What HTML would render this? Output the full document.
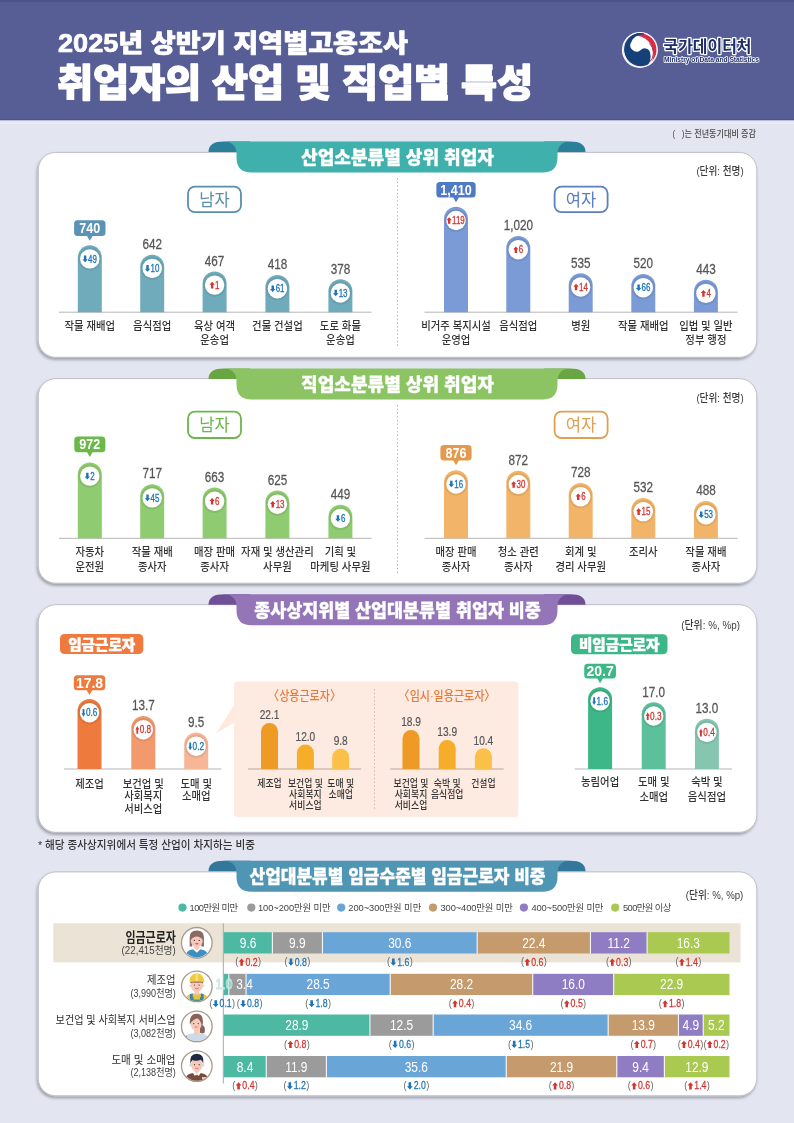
<!DOCTYPE html>
<html lang="ko"><head><meta charset="utf-8"><title>2025년 상반기 지역별고용조사 취업자의 산업 및 직업별 특성</title>
<style>html,body{margin:0;padding:0;background:#e3e5f1;}svg{display:block;font-family:'Liberation Sans','Noto Sans CJK KR',sans-serif;}text{white-space:pre;}</style>
</head><body>
<svg width="794" height="1123" viewBox="0 0 794 1123">
<defs>
<filter id="sh" x="-5%" y="-5%" width="110%" height="115%"><feGaussianBlur in="SourceAlpha" stdDeviation="1.7"/><feOffset dx="-1.4" dy="2"/><feComponentTransfer><feFuncA type="linear" slope="0.32"/></feComponentTransfer><feMerge><feMergeNode/><feMergeNode in="SourceGraphic"/></feMerge></filter>
</defs>
<rect x="0.00" y="0.00" width="794.00" height="1123.00" rx="0" fill="#e3e5f1" />
<rect x="0.00" y="0.00" width="794.00" height="120.00" rx="0" fill="#575d95" />
<rect x="0.00" y="0.00" width="794.00" height="2.00" rx="0" fill="#4c5187" />
<rect x="0.00" y="120.00" width="794.00" height="4.00" rx="0" fill="#e8eaf6" />
<rect x="0.00" y="119.00" width="794.00" height="1.30" rx="0" fill="#4f548a" />
<text x="58" y="52" font-size="25" font-weight="900" fill="#fff" stroke="#fff" stroke-width="0.7" stroke-linejoin="round" textLength="350" lengthAdjust="spacingAndGlyphs">2025년 상반기 지역별고용조사</text>
<text x="57" y="96" font-size="38" font-weight="900" fill="#fff" stroke="#fff" stroke-width="1.3" stroke-linejoin="round" textLength="476" lengthAdjust="spacingAndGlyphs">취업자의 산업 및 직업별 특성</text>
<clipPath id="lgc"><circle cx="0" cy="0" r="16.8"/></clipPath>
<g transform="translate(639.9,49.9)">
<circle r="18" fill="#fff"/>
<g clip-path="url(#lgc)">
<circle r="16.8" fill="#dc2b45"/>
<circle cx="-4.91" cy="4.26" r="18.5" fill="#fff"/>
<path d="M9.6,-6.4 A13.2,13.2 0 0 1 9.6,12.4" fill="none" stroke="#8a2c4e" stroke-width="0.9"/>
<path d="M4.5,-16.9 A16.8,16.8 0 1 0 8.4,14.6 Q11.6,9 10.4,4 A5.6,5.6 0 0 0 0.6,0.4 A6.3,6.3 0 0 1 -8.4,-8.2 Q-6.2,-14.6 4.5,-15.6Z" fill="#15407a"/>
</g></g>
<text x="663.5" y="51.5" font-size="16" font-weight="700" fill="#1d2f6a" stroke="#fff" stroke-width="2.5" stroke-linejoin="round" paint-order="stroke" textLength="88" lengthAdjust="spacingAndGlyphs">국가데이터처</text>
<text x="664" y="62.3" font-size="7" font-weight="700" fill="#1d2f6a" stroke="#fff" stroke-width="1.6" stroke-linejoin="round" paint-order="stroke" textLength="95" lengthAdjust="spacingAndGlyphs">Ministry of Data and Statistics</text>
<text transform="translate(756.00,137.30) scale(0.9,1)" font-size="9" font-weight="500" fill="#4a4a4a" text-anchor="end" >(   )는 전년동기대비 증감</text>
<rect x="38.3" y="152.4" width="718.5" height="204.9" rx="17.5" fill="#fff" stroke="#b9bac6" stroke-width="0.9" filter="url(#sh)"/>
<path d="M208.5,152.0 C208.5,144.5 214,141.5 224,141.5 L250,141.5 L250,152.0Z" fill="#2a7f9a"/>
<path d="M585.5,152.0 C585.5,144.5 580,141.5 570,141.5 L544,141.5 L544,152.0Z" fill="#2a7f9a"/>
<path d="M224,141.5 L570,141.5 C563,141.5 557.5,145.5 557.5,153.5 L557.5,157.5 Q557.5,172.5 542.5,172.5 L251.5,172.5 Q236.5,172.5 236.5,157.5 L236.5,153.5 C236.5,145.5 231,141.5 224,141.5Z" fill="#3fb0ac"/>
<text x="397.5" y="164.1" font-size="18.6" font-weight="900" fill="#fff" stroke="#fff" stroke-width="0.3" stroke-linejoin="round" text-anchor="middle" textLength="193" lengthAdjust="spacingAndGlyphs">산업소분류별 상위 취업자</text>
<text transform="translate(743.70,175.00) scale(0.84,1)" font-size="11.5" font-weight="500" fill="#3c3c3c" text-anchor="end" >(단위: 천명)</text>
<rect x="188" y="186.6" width="53" height="25.6" rx="6.8" fill="#fff" stroke="#5b8fa9" stroke-width="1.8"/>
<text transform="translate(214.50,205.60) scale(0.95,1)" font-size="17.5" font-weight="400" fill="#5b8fa9" text-anchor="middle" >남자</text>
<rect x="554.6" y="186.6" width="53" height="25.6" rx="6.8" fill="#fff" stroke="#5b80c0" stroke-width="1.8"/>
<text transform="translate(581.10,205.60) scale(0.95,1)" font-size="17.5" font-weight="400" fill="#5b80c0" text-anchor="middle" >여자</text>
<line x1="397.5" y1="178" x2="397.5" y2="347" stroke="#bbb" stroke-width="1" stroke-dasharray="1.5 2.2"/>
<line x1="59" y1="312.2" x2="371.5" y2="312.2" stroke="#b5b5b5" stroke-width="1"/>
<line x1="424.5" y1="312.2" x2="737.5" y2="312.2" stroke="#b5b5b5" stroke-width="1"/>
<path d="M77.80,312.2 L77.80,257.20 A12.0,12.0 0 0 1 101.80,257.20 L101.80,312.2Z" fill="#70abbc"/>
<circle cx="89.80" cy="258.90" r="10.6" fill="none" stroke="#000" stroke-opacity="0.07" stroke-width="2"/>
<circle cx="89.80" cy="258.90" r="9.7" fill="#fff"/>
<path d="M85.13,262.20 L87.83,259.20 L86.33,259.20 L86.33,255.60 L83.93,255.60 L83.93,259.20 L82.43,259.20Z" fill="#1d74b6"/>
<text transform="translate(88.08,262.50) scale(0.78,1)" font-size="10.2" font-weight="400" fill="#1d74b6" text-anchor="start" stroke="#1d74b6" stroke-width="0.3">49</text>
<path d="M77.60,220.30 H102.00 Q105.50,220.30 105.50,223.80 V232.40 Q105.50,235.90 102.00,235.90 H92.60 L89.80,240.70 L87.00,235.90 H77.60 Q74.10,235.90 74.10,232.40 V223.80 Q74.10,220.30 77.60,220.30Z" fill="#5b93b5"/>
<text transform="translate(89.80,233.10) scale(0.9,1)" font-size="14" font-weight="700" fill="#fff" text-anchor="middle" >740</text>
<text transform="translate(89.80,330.00) scale(0.88,1)" font-size="11.8" font-weight="500" fill="#333" text-anchor="middle" >작물 재배업</text>
<path d="M140.20,312.2 L140.20,266.70 A12.0,12.0 0 0 1 164.20,266.70 L164.20,312.2Z" fill="#70abbc"/>
<circle cx="152.20" cy="268.40" r="10.6" fill="none" stroke="#000" stroke-opacity="0.07" stroke-width="2"/>
<circle cx="152.20" cy="268.40" r="9.7" fill="#fff"/>
<path d="M147.53,271.70 L150.23,268.70 L148.73,268.70 L148.73,265.10 L146.33,265.10 L146.33,268.70 L144.83,268.70Z" fill="#1d74b6"/>
<text transform="translate(150.48,272.00) scale(0.78,1)" font-size="10.2" font-weight="400" fill="#1d74b6" text-anchor="start" stroke="#1d74b6" stroke-width="0.3">10</text>
<text transform="translate(152.20,248.90) scale(0.82,1)" font-size="14.3" font-weight="400" fill="#555" text-anchor="middle" stroke="#555" stroke-width="0.25">642</text>
<text transform="translate(152.20,330.00) scale(0.88,1)" font-size="11.8" font-weight="500" fill="#333" text-anchor="middle" >음식점업</text>
<path d="M202.60,312.2 L202.60,283.40 A12.0,12.0 0 0 1 226.60,283.40 L226.60,312.2Z" fill="#70abbc"/>
<circle cx="214.60" cy="285.10" r="10.6" fill="none" stroke="#000" stroke-opacity="0.07" stroke-width="2"/>
<circle cx="214.60" cy="285.10" r="9.7" fill="#fff"/>
<path d="M212.14,281.80 L214.84,284.80 L213.34,284.80 L213.34,288.40 L210.94,288.40 L210.94,284.80 L209.44,284.80Z" fill="#d3352f"/>
<text transform="translate(215.09,288.70) scale(0.78,1)" font-size="10.2" font-weight="400" fill="#d3352f" text-anchor="start" stroke="#d3352f" stroke-width="0.3">1</text>
<text transform="translate(214.60,265.60) scale(0.82,1)" font-size="14.3" font-weight="400" fill="#555" text-anchor="middle" stroke="#555" stroke-width="0.25">467</text>
<text transform="translate(214.60,330.00) scale(0.88,1)" font-size="11.8" font-weight="500" fill="#333" text-anchor="middle" >육상 여객</text>
<text transform="translate(214.60,344.30) scale(0.88,1)" font-size="11.8" font-weight="500" fill="#333" text-anchor="middle" >운송업</text>
<path d="M265.40,312.2 L265.40,287.00 A12.0,12.0 0 0 1 289.40,287.00 L289.40,312.2Z" fill="#70abbc"/>
<circle cx="277.40" cy="288.70" r="10.6" fill="none" stroke="#000" stroke-opacity="0.07" stroke-width="2"/>
<circle cx="277.40" cy="288.70" r="9.7" fill="#fff"/>
<path d="M272.73,292.00 L275.43,289.00 L273.93,289.00 L273.93,285.40 L271.53,285.40 L271.53,289.00 L270.03,289.00Z" fill="#1d74b6"/>
<text transform="translate(275.68,292.30) scale(0.78,1)" font-size="10.2" font-weight="400" fill="#1d74b6" text-anchor="start" stroke="#1d74b6" stroke-width="0.3">61</text>
<text transform="translate(277.40,269.20) scale(0.82,1)" font-size="14.3" font-weight="400" fill="#555" text-anchor="middle" stroke="#555" stroke-width="0.25">418</text>
<text transform="translate(277.40,330.00) scale(0.88,1)" font-size="11.8" font-weight="500" fill="#333" text-anchor="middle" >건물 건설업</text>
<path d="M328.40,312.2 L328.40,291.30 A12.0,12.0 0 0 1 352.40,291.30 L352.40,312.2Z" fill="#70abbc"/>
<circle cx="340.40" cy="293.00" r="10.6" fill="none" stroke="#000" stroke-opacity="0.07" stroke-width="2"/>
<circle cx="340.40" cy="293.00" r="9.7" fill="#fff"/>
<path d="M335.73,296.30 L338.43,293.30 L336.93,293.30 L336.93,289.70 L334.53,289.70 L334.53,293.30 L333.03,293.30Z" fill="#1d74b6"/>
<text transform="translate(338.68,296.60) scale(0.78,1)" font-size="10.2" font-weight="400" fill="#1d74b6" text-anchor="start" stroke="#1d74b6" stroke-width="0.3">13</text>
<text transform="translate(340.40,273.50) scale(0.82,1)" font-size="14.3" font-weight="400" fill="#555" text-anchor="middle" stroke="#555" stroke-width="0.25">378</text>
<text transform="translate(340.40,330.00) scale(0.88,1)" font-size="11.8" font-weight="500" fill="#333" text-anchor="middle" >도로 화물</text>
<text transform="translate(340.40,344.30) scale(0.88,1)" font-size="11.8" font-weight="500" fill="#333" text-anchor="middle" >운송업</text>
<path d="M444.00,312.2 L444.00,218.80 A12.0,12.0 0 0 1 468.00,218.80 L468.00,312.2Z" fill="#7b9bd6"/>
<circle cx="456.00" cy="220.50" r="10.6" fill="none" stroke="#000" stroke-opacity="0.07" stroke-width="2"/>
<circle cx="456.00" cy="220.50" r="9.7" fill="#fff"/>
<path d="M449.11,217.20 L451.81,220.20 L450.31,220.20 L450.31,223.80 L447.91,223.80 L447.91,220.20 L446.41,220.20Z" fill="#d3352f"/>
<text transform="translate(452.06,224.10) scale(0.78,1)" font-size="10.2" font-weight="400" fill="#d3352f" text-anchor="start" stroke="#d3352f" stroke-width="0.3">119</text>
<path d="M439.85,181.90 H472.15 Q475.65,181.90 475.65,185.40 V193.90 Q475.65,197.40 472.15,197.40 H458.80 L456.00,202.20 L453.20,197.40 H439.85 Q436.35,197.40 436.35,193.90 V185.40 Q436.35,181.90 439.85,181.90Z" fill="#4f7ac6"/>
<text transform="translate(456.00,194.60) scale(0.9,1)" font-size="14" font-weight="700" fill="#fff" text-anchor="middle" >1,410</text>
<text transform="translate(456.00,330.00) scale(0.88,1)" font-size="11.8" font-weight="500" fill="#333" text-anchor="middle" >비거주 복지시설</text>
<text transform="translate(456.00,344.30) scale(0.88,1)" font-size="11.8" font-weight="500" fill="#333" text-anchor="middle" >운영업</text>
<path d="M506.30,312.2 L506.30,248.00 A12.0,12.0 0 0 1 530.30,248.00 L530.30,312.2Z" fill="#7b9bd6"/>
<circle cx="518.30" cy="249.70" r="10.6" fill="none" stroke="#000" stroke-opacity="0.07" stroke-width="2"/>
<circle cx="518.30" cy="249.70" r="9.7" fill="#fff"/>
<path d="M515.84,246.40 L518.54,249.40 L517.04,249.40 L517.04,253.00 L514.64,253.00 L514.64,249.40 L513.14,249.40Z" fill="#d3352f"/>
<text transform="translate(518.79,253.30) scale(0.78,1)" font-size="10.2" font-weight="400" fill="#d3352f" text-anchor="start" stroke="#d3352f" stroke-width="0.3">6</text>
<text transform="translate(518.30,230.20) scale(0.82,1)" font-size="14.3" font-weight="400" fill="#555" text-anchor="middle" stroke="#555" stroke-width="0.25">1,020</text>
<text transform="translate(518.30,330.00) scale(0.88,1)" font-size="11.8" font-weight="500" fill="#333" text-anchor="middle" >음식점업</text>
<path d="M568.70,312.2 L568.70,285.30 A12.0,12.0 0 0 1 592.70,285.30 L592.70,312.2Z" fill="#7b9bd6"/>
<circle cx="580.70" cy="287.00" r="10.6" fill="none" stroke="#000" stroke-opacity="0.07" stroke-width="2"/>
<circle cx="580.70" cy="287.00" r="9.7" fill="#fff"/>
<path d="M576.03,283.70 L578.73,286.70 L577.23,286.70 L577.23,290.30 L574.83,290.30 L574.83,286.70 L573.33,286.70Z" fill="#d3352f"/>
<text transform="translate(578.98,290.60) scale(0.78,1)" font-size="10.2" font-weight="400" fill="#d3352f" text-anchor="start" stroke="#d3352f" stroke-width="0.3">14</text>
<text transform="translate(580.70,267.50) scale(0.82,1)" font-size="14.3" font-weight="400" fill="#555" text-anchor="middle" stroke="#555" stroke-width="0.25">535</text>
<text transform="translate(580.70,330.00) scale(0.88,1)" font-size="11.8" font-weight="500" fill="#333" text-anchor="middle" >병원</text>
<path d="M631.30,312.2 L631.30,286.00 A12.0,12.0 0 0 1 655.30,286.00 L655.30,312.2Z" fill="#7b9bd6"/>
<circle cx="643.30" cy="287.70" r="10.6" fill="none" stroke="#000" stroke-opacity="0.07" stroke-width="2"/>
<circle cx="643.30" cy="287.70" r="9.7" fill="#fff"/>
<path d="M638.63,291.00 L641.33,288.00 L639.83,288.00 L639.83,284.40 L637.43,284.40 L637.43,288.00 L635.93,288.00Z" fill="#1d74b6"/>
<text transform="translate(641.58,291.30) scale(0.78,1)" font-size="10.2" font-weight="400" fill="#1d74b6" text-anchor="start" stroke="#1d74b6" stroke-width="0.3">66</text>
<text transform="translate(643.30,268.20) scale(0.82,1)" font-size="14.3" font-weight="400" fill="#555" text-anchor="middle" stroke="#555" stroke-width="0.25">520</text>
<text transform="translate(643.30,330.00) scale(0.88,1)" font-size="11.8" font-weight="500" fill="#333" text-anchor="middle" >작물 재배업</text>
<path d="M693.90,312.2 L693.90,291.70 A12.0,12.0 0 0 1 717.90,291.70 L717.90,312.2Z" fill="#7b9bd6"/>
<circle cx="705.90" cy="293.40" r="10.6" fill="none" stroke="#000" stroke-opacity="0.07" stroke-width="2"/>
<circle cx="705.90" cy="293.40" r="9.7" fill="#fff"/>
<path d="M703.44,290.10 L706.14,293.10 L704.64,293.10 L704.64,296.70 L702.24,296.70 L702.24,293.10 L700.74,293.10Z" fill="#d3352f"/>
<text transform="translate(706.39,297.00) scale(0.78,1)" font-size="10.2" font-weight="400" fill="#d3352f" text-anchor="start" stroke="#d3352f" stroke-width="0.3">4</text>
<text transform="translate(705.90,273.90) scale(0.82,1)" font-size="14.3" font-weight="400" fill="#555" text-anchor="middle" stroke="#555" stroke-width="0.25">443</text>
<text transform="translate(705.90,330.00) scale(0.88,1)" font-size="11.8" font-weight="500" fill="#333" text-anchor="middle" >입법 및 일반</text>
<text transform="translate(705.90,344.30) scale(0.88,1)" font-size="11.8" font-weight="500" fill="#333" text-anchor="middle" >정부 행정</text>
<rect x="38.3" y="378.6" width="718.5" height="204.60000000000002" rx="17.5" fill="#fff" stroke="#b9bac6" stroke-width="0.9" filter="url(#sh)"/>
<path d="M208.5,379.0 C208.5,371.5 214,368.5 224,368.5 L250,368.5 L250,379.0Z" fill="#6aa544"/>
<path d="M585.5,379.0 C585.5,371.5 580,368.5 570,368.5 L544,368.5 L544,379.0Z" fill="#6aa544"/>
<path d="M224,368.5 L570,368.5 C563,368.5 557.5,372.5 557.5,380.5 L557.5,384.5 Q557.5,399.5 542.5,399.5 L251.5,399.5 Q236.5,399.5 236.5,384.5 L236.5,380.5 C236.5,372.5 231,368.5 224,368.5Z" fill="#8cc464"/>
<text x="397.5" y="391.1" font-size="18.6" font-weight="900" fill="#fff" stroke="#fff" stroke-width="0.3" stroke-linejoin="round" text-anchor="middle" textLength="193" lengthAdjust="spacingAndGlyphs">직업소분류별 상위 취업자</text>
<text transform="translate(743.70,401.60) scale(0.84,1)" font-size="11.5" font-weight="500" fill="#3c3c3c" text-anchor="end" >(단위: 천명)</text>
<rect x="188" y="411.6" width="53" height="26.4" rx="6.8" fill="#fff" stroke="#6db54d" stroke-width="1.8"/>
<text transform="translate(214.50,431.00) scale(0.95,1)" font-size="17.5" font-weight="400" fill="#6db54d" text-anchor="middle" >남자</text>
<rect x="554.6" y="411.6" width="53" height="26.4" rx="6.8" fill="#fff" stroke="#e0a050" stroke-width="1.8"/>
<text transform="translate(581.10,431.00) scale(0.95,1)" font-size="17.5" font-weight="400" fill="#e0a050" text-anchor="middle" >여자</text>
<line x1="397.5" y1="405" x2="397.5" y2="574" stroke="#bbb" stroke-width="1" stroke-dasharray="1.5 2.2"/>
<line x1="59" y1="538.3" x2="371.5" y2="538.3" stroke="#b5b5b5" stroke-width="1"/>
<line x1="424.5" y1="538.3" x2="737.5" y2="538.3" stroke="#b5b5b5" stroke-width="1"/>
<path d="M77.80,538.3 L77.80,474.40 A12.0,12.0 0 0 1 101.80,474.40 L101.80,538.3Z" fill="#8fcb70"/>
<circle cx="89.80" cy="476.10" r="10.6" fill="none" stroke="#000" stroke-opacity="0.07" stroke-width="2"/>
<circle cx="89.80" cy="476.10" r="9.7" fill="#fff"/>
<path d="M87.34,479.40 L90.04,476.40 L88.54,476.40 L88.54,472.80 L86.14,472.80 L86.14,476.40 L84.64,476.40Z" fill="#1d74b6"/>
<text transform="translate(90.29,479.70) scale(0.78,1)" font-size="10.2" font-weight="400" fill="#1d74b6" text-anchor="start" stroke="#1d74b6" stroke-width="0.3">2</text>
<path d="M77.75,436.40 H101.85 Q105.35,436.40 105.35,439.90 V448.70 Q105.35,452.20 101.85,452.20 H92.60 L89.80,457.00 L87.00,452.20 H77.75 Q74.25,452.20 74.25,448.70 V439.90 Q74.25,436.40 77.75,436.40Z" fill="#6cb84a"/>
<text transform="translate(89.80,449.40) scale(0.9,1)" font-size="14" font-weight="700" fill="#fff" text-anchor="middle" >972</text>
<text transform="translate(89.80,556.30) scale(0.88,1)" font-size="11.8" font-weight="500" fill="#333" text-anchor="middle" >자동차</text>
<text transform="translate(89.80,570.60) scale(0.88,1)" font-size="11.8" font-weight="500" fill="#333" text-anchor="middle" >운전원</text>
<path d="M140.20,538.3 L140.20,496.20 A12.0,12.0 0 0 1 164.20,496.20 L164.20,538.3Z" fill="#8fcb70"/>
<circle cx="152.20" cy="497.90" r="10.6" fill="none" stroke="#000" stroke-opacity="0.07" stroke-width="2"/>
<circle cx="152.20" cy="497.90" r="9.7" fill="#fff"/>
<path d="M147.53,501.20 L150.23,498.20 L148.73,498.20 L148.73,494.60 L146.33,494.60 L146.33,498.20 L144.83,498.20Z" fill="#1d74b6"/>
<text transform="translate(150.48,501.50) scale(0.78,1)" font-size="10.2" font-weight="400" fill="#1d74b6" text-anchor="start" stroke="#1d74b6" stroke-width="0.3">45</text>
<text transform="translate(152.20,478.40) scale(0.82,1)" font-size="14.3" font-weight="400" fill="#555" text-anchor="middle" stroke="#555" stroke-width="0.25">717</text>
<text transform="translate(152.20,556.30) scale(0.88,1)" font-size="11.8" font-weight="500" fill="#333" text-anchor="middle" >작물 재배</text>
<text transform="translate(152.20,570.60) scale(0.88,1)" font-size="11.8" font-weight="500" fill="#333" text-anchor="middle" >종사자</text>
<path d="M202.60,538.3 L202.60,499.60 A12.0,12.0 0 0 1 226.60,499.60 L226.60,538.3Z" fill="#8fcb70"/>
<circle cx="214.60" cy="501.30" r="10.6" fill="none" stroke="#000" stroke-opacity="0.07" stroke-width="2"/>
<circle cx="214.60" cy="501.30" r="9.7" fill="#fff"/>
<path d="M212.14,498.00 L214.84,501.00 L213.34,501.00 L213.34,504.60 L210.94,504.60 L210.94,501.00 L209.44,501.00Z" fill="#d3352f"/>
<text transform="translate(215.09,504.90) scale(0.78,1)" font-size="10.2" font-weight="400" fill="#d3352f" text-anchor="start" stroke="#d3352f" stroke-width="0.3">6</text>
<text transform="translate(214.60,481.80) scale(0.82,1)" font-size="14.3" font-weight="400" fill="#555" text-anchor="middle" stroke="#555" stroke-width="0.25">663</text>
<text transform="translate(214.60,556.30) scale(0.88,1)" font-size="11.8" font-weight="500" fill="#333" text-anchor="middle" >매장 판매</text>
<text transform="translate(214.60,570.60) scale(0.88,1)" font-size="11.8" font-weight="500" fill="#333" text-anchor="middle" >종사자</text>
<path d="M265.40,538.3 L265.40,502.50 A12.0,12.0 0 0 1 289.40,502.50 L289.40,538.3Z" fill="#8fcb70"/>
<circle cx="277.40" cy="504.20" r="10.6" fill="none" stroke="#000" stroke-opacity="0.07" stroke-width="2"/>
<circle cx="277.40" cy="504.20" r="9.7" fill="#fff"/>
<path d="M272.73,500.90 L275.43,503.90 L273.93,503.90 L273.93,507.50 L271.53,507.50 L271.53,503.90 L270.03,503.90Z" fill="#d3352f"/>
<text transform="translate(275.68,507.80) scale(0.78,1)" font-size="10.2" font-weight="400" fill="#d3352f" text-anchor="start" stroke="#d3352f" stroke-width="0.3">13</text>
<text transform="translate(277.40,484.70) scale(0.82,1)" font-size="14.3" font-weight="400" fill="#555" text-anchor="middle" stroke="#555" stroke-width="0.25">625</text>
<text transform="translate(277.40,556.30) scale(0.88,1)" font-size="11.8" font-weight="500" fill="#333" text-anchor="middle" >자재 및 생산관리</text>
<text transform="translate(277.40,570.60) scale(0.88,1)" font-size="11.8" font-weight="500" fill="#333" text-anchor="middle" >사무원</text>
<path d="M328.40,538.3 L328.40,516.80 A12.0,12.0 0 0 1 352.40,516.80 L352.40,538.3Z" fill="#8fcb70"/>
<circle cx="340.40" cy="518.50" r="10.6" fill="none" stroke="#000" stroke-opacity="0.07" stroke-width="2"/>
<circle cx="340.40" cy="518.50" r="9.7" fill="#fff"/>
<path d="M337.94,521.80 L340.64,518.80 L339.14,518.80 L339.14,515.20 L336.74,515.20 L336.74,518.80 L335.24,518.80Z" fill="#1d74b6"/>
<text transform="translate(340.89,522.10) scale(0.78,1)" font-size="10.2" font-weight="400" fill="#1d74b6" text-anchor="start" stroke="#1d74b6" stroke-width="0.3">6</text>
<text transform="translate(340.40,499.00) scale(0.82,1)" font-size="14.3" font-weight="400" fill="#555" text-anchor="middle" stroke="#555" stroke-width="0.25">449</text>
<text transform="translate(340.40,556.30) scale(0.88,1)" font-size="11.8" font-weight="500" fill="#333" text-anchor="middle" >기획 및</text>
<text transform="translate(340.40,570.60) scale(0.88,1)" font-size="11.8" font-weight="500" fill="#333" text-anchor="middle" >마케팅 사무원</text>
<path d="M444.00,538.3 L444.00,482.30 A12.0,12.0 0 0 1 468.00,482.30 L468.00,538.3Z" fill="#f2b469"/>
<circle cx="456.00" cy="484.00" r="10.6" fill="none" stroke="#000" stroke-opacity="0.07" stroke-width="2"/>
<circle cx="456.00" cy="484.00" r="9.7" fill="#fff"/>
<path d="M451.33,487.30 L454.03,484.30 L452.53,484.30 L452.53,480.70 L450.13,480.70 L450.13,484.30 L448.63,484.30Z" fill="#1d74b6"/>
<text transform="translate(454.28,487.60) scale(0.78,1)" font-size="10.2" font-weight="400" fill="#1d74b6" text-anchor="start" stroke="#1d74b6" stroke-width="0.3">16</text>
<path d="M443.90,444.90 H468.10 Q471.60,444.90 471.60,448.40 V456.90 Q471.60,460.40 468.10,460.40 H458.80 L456.00,465.20 L453.20,460.40 H443.90 Q440.40,460.40 440.40,456.90 V448.40 Q440.40,444.90 443.90,444.90Z" fill="#e39a4c"/>
<text transform="translate(456.00,457.60) scale(0.9,1)" font-size="14" font-weight="700" fill="#fff" text-anchor="middle" >876</text>
<text transform="translate(456.00,556.30) scale(0.88,1)" font-size="11.8" font-weight="500" fill="#333" text-anchor="middle" >매장 판매</text>
<text transform="translate(456.00,570.60) scale(0.88,1)" font-size="11.8" font-weight="500" fill="#333" text-anchor="middle" >종사자</text>
<path d="M506.30,538.3 L506.30,482.80 A12.0,12.0 0 0 1 530.30,482.80 L530.30,538.3Z" fill="#f2b469"/>
<circle cx="518.30" cy="484.50" r="10.6" fill="none" stroke="#000" stroke-opacity="0.07" stroke-width="2"/>
<circle cx="518.30" cy="484.50" r="9.7" fill="#fff"/>
<path d="M513.63,481.20 L516.33,484.20 L514.83,484.20 L514.83,487.80 L512.43,487.80 L512.43,484.20 L510.93,484.20Z" fill="#d3352f"/>
<text transform="translate(516.58,488.10) scale(0.78,1)" font-size="10.2" font-weight="400" fill="#d3352f" text-anchor="start" stroke="#d3352f" stroke-width="0.3">30</text>
<text transform="translate(518.30,465.00) scale(0.82,1)" font-size="14.3" font-weight="400" fill="#555" text-anchor="middle" stroke="#555" stroke-width="0.25">872</text>
<text transform="translate(518.30,556.30) scale(0.88,1)" font-size="11.8" font-weight="500" fill="#333" text-anchor="middle" >청소 관련</text>
<text transform="translate(518.30,570.60) scale(0.88,1)" font-size="11.8" font-weight="500" fill="#333" text-anchor="middle" >종사자</text>
<path d="M568.70,538.3 L568.70,495.00 A12.0,12.0 0 0 1 592.70,495.00 L592.70,538.3Z" fill="#f2b469"/>
<circle cx="580.70" cy="496.70" r="10.6" fill="none" stroke="#000" stroke-opacity="0.07" stroke-width="2"/>
<circle cx="580.70" cy="496.70" r="9.7" fill="#fff"/>
<path d="M578.24,493.40 L580.94,496.40 L579.44,496.40 L579.44,500.00 L577.04,500.00 L577.04,496.40 L575.54,496.40Z" fill="#d3352f"/>
<text transform="translate(581.19,500.30) scale(0.78,1)" font-size="10.2" font-weight="400" fill="#d3352f" text-anchor="start" stroke="#d3352f" stroke-width="0.3">6</text>
<text transform="translate(580.70,477.20) scale(0.82,1)" font-size="14.3" font-weight="400" fill="#555" text-anchor="middle" stroke="#555" stroke-width="0.25">728</text>
<text transform="translate(580.70,556.30) scale(0.88,1)" font-size="11.8" font-weight="500" fill="#333" text-anchor="middle" >회계 및</text>
<text transform="translate(580.70,570.60) scale(0.88,1)" font-size="11.8" font-weight="500" fill="#333" text-anchor="middle" >경리 사무원</text>
<path d="M631.30,538.3 L631.30,509.90 A12.0,12.0 0 0 1 655.30,509.90 L655.30,538.3Z" fill="#f2b469"/>
<circle cx="643.30" cy="511.60" r="10.6" fill="none" stroke="#000" stroke-opacity="0.07" stroke-width="2"/>
<circle cx="643.30" cy="511.60" r="9.7" fill="#fff"/>
<path d="M638.63,508.30 L641.33,511.30 L639.83,511.30 L639.83,514.90 L637.43,514.90 L637.43,511.30 L635.93,511.30Z" fill="#d3352f"/>
<text transform="translate(641.58,515.20) scale(0.78,1)" font-size="10.2" font-weight="400" fill="#d3352f" text-anchor="start" stroke="#d3352f" stroke-width="0.3">15</text>
<text transform="translate(643.30,492.10) scale(0.82,1)" font-size="14.3" font-weight="400" fill="#555" text-anchor="middle" stroke="#555" stroke-width="0.25">532</text>
<text transform="translate(643.30,556.30) scale(0.88,1)" font-size="11.8" font-weight="500" fill="#333" text-anchor="middle" >조리사</text>
<path d="M693.90,538.3 L693.90,513.00 A12.0,12.0 0 0 1 717.90,513.00 L717.90,538.3Z" fill="#f2b469"/>
<circle cx="705.90" cy="514.70" r="10.6" fill="none" stroke="#000" stroke-opacity="0.07" stroke-width="2"/>
<circle cx="705.90" cy="514.70" r="9.7" fill="#fff"/>
<path d="M701.23,518.00 L703.93,515.00 L702.43,515.00 L702.43,511.40 L700.03,511.40 L700.03,515.00 L698.53,515.00Z" fill="#1d74b6"/>
<text transform="translate(704.18,518.30) scale(0.78,1)" font-size="10.2" font-weight="400" fill="#1d74b6" text-anchor="start" stroke="#1d74b6" stroke-width="0.3">53</text>
<text transform="translate(705.90,495.20) scale(0.82,1)" font-size="14.3" font-weight="400" fill="#555" text-anchor="middle" stroke="#555" stroke-width="0.25">488</text>
<text transform="translate(705.90,556.30) scale(0.88,1)" font-size="11.8" font-weight="500" fill="#333" text-anchor="middle" >작물 재배</text>
<text transform="translate(705.90,570.60) scale(0.88,1)" font-size="11.8" font-weight="500" fill="#333" text-anchor="middle" >종사자</text>
<rect x="38.3" y="604.7" width="718.5" height="227.5999999999999" rx="17.5" fill="#fff" stroke="#b9bac6" stroke-width="0.9" filter="url(#sh)"/>
<path d="M208.5,604.8 C208.5,597.3 214,594.3 224,594.3 L250,594.3 L250,604.8Z" fill="#6f5096"/>
<path d="M585.5,604.8 C585.5,597.3 580,594.3 570,594.3 L544,594.3 L544,604.8Z" fill="#6f5096"/>
<path d="M224,594.3 L570,594.3 C563,594.3 557.5,598.3 557.5,606.3 L557.5,610.3 Q557.5,625.3 542.5,625.3 L251.5,625.3 Q236.5,625.3 236.5,610.3 L236.5,606.3 C236.5,598.3 231,594.3 224,594.3Z" fill="#9475b7"/>
<text x="397.5" y="616.9" font-size="18.6" font-weight="900" fill="#fff" stroke="#fff" stroke-width="0.3" stroke-linejoin="round" text-anchor="middle" textLength="286.5" lengthAdjust="spacingAndGlyphs">종사상지위별 산업대분류별 취업자 비중</text>
<text transform="translate(740.00,629.20) scale(0.86,1)" font-size="11.5" font-weight="500" fill="#3c3c3c" text-anchor="end" >(단위: %, %p)</text>
<rect x="60.00" y="634.00" width="83.30" height="20.10" rx="4.5" fill="#ee7b3d" />
<text x="101.70" y="649.60" font-size="14.6" font-weight="900" fill="#fff" text-anchor="middle" stroke="#fff" stroke-width="0.45" stroke-linejoin="round">임금근로자</text>
<rect x="571.00" y="634.20" width="96.50" height="20.00" rx="4.5" fill="#3db787" />
<text x="619.20" y="649.70" font-size="14.6" font-weight="900" fill="#fff" text-anchor="middle" stroke="#fff" stroke-width="0.45" stroke-linejoin="round">비임금근로자</text>
<line x1="64" y1="769" x2="221.5" y2="769" stroke="#b5b5b5" stroke-width="1"/>
<path d="M77.50,769 L77.50,711.00 A12.0,12.0 0 0 1 101.50,711.00 L101.50,769Z" fill="#ee7a3e"/>
<circle cx="89.50" cy="712.70" r="10.6" fill="none" stroke="#000" stroke-opacity="0.07" stroke-width="2"/>
<circle cx="89.50" cy="712.70" r="9.7" fill="#fff"/>
<path d="M83.51,716.80 L85.41,713.20 L84.41,713.20 L84.41,709.00 L82.61,709.00 L82.61,713.20 L81.61,713.20Z" fill="#1d74b6"/>
<text transform="translate(85.91,716.30) scale(0.81,1)" font-size="10.2" font-weight="400" fill="#1d74b6" text-anchor="start" stroke="#1d74b6" stroke-width="0.3">0.6</text>
<path d="M77.30,675.20 H101.70 Q105.20,675.20 105.20,678.70 V686.80 Q105.20,690.30 101.70,690.30 H92.30 L89.50,695.10 L86.70,690.30 H77.30 Q73.80,690.30 73.80,686.80 V678.70 Q73.80,675.20 77.30,675.20Z" fill="#ee7b3d"/>
<text x="89.50" y="687.50" font-size="14" font-weight="700" fill="#fff" text-anchor="middle" >17.8</text>
<text transform="translate(89.50,787.60) scale(0.88,1)" font-size="11.8" font-weight="500" fill="#333" text-anchor="middle" >제조업</text>
<path d="M131.30,769 L131.30,728.00 A12.0,12.0 0 0 1 155.30,728.00 L155.30,769Z" fill="#f29a6e"/>
<circle cx="143.30" cy="729.70" r="10.6" fill="none" stroke="#000" stroke-opacity="0.07" stroke-width="2"/>
<circle cx="143.30" cy="729.70" r="9.7" fill="#fff"/>
<path d="M137.31,726.00 L139.21,729.60 L138.21,729.60 L138.21,733.80 L136.41,733.80 L136.41,729.60 L135.41,729.60Z" fill="#d3352f"/>
<text transform="translate(139.71,733.30) scale(0.81,1)" font-size="10.2" font-weight="400" fill="#d3352f" text-anchor="start" stroke="#d3352f" stroke-width="0.3">0.8</text>
<text transform="translate(143.30,710.20) scale(0.82,1)" font-size="14.3" font-weight="400" fill="#555" text-anchor="middle" stroke="#555" stroke-width="0.25">13.7</text>
<text transform="translate(143.30,787.60) scale(0.88,1)" font-size="11.8" font-weight="500" fill="#333" text-anchor="middle" >보건업 및</text>
<text transform="translate(143.30,800.40) scale(0.88,1)" font-size="11.8" font-weight="500" fill="#333" text-anchor="middle" >사회복지</text>
<text transform="translate(143.30,813.20) scale(0.88,1)" font-size="11.8" font-weight="500" fill="#333" text-anchor="middle" >서비스업</text>
<path d="M184.20,769 L184.20,744.50 A12.0,12.0 0 0 1 208.20,744.50 L208.20,769Z" fill="#f7b698"/>
<circle cx="196.20" cy="746.20" r="10.6" fill="none" stroke="#000" stroke-opacity="0.07" stroke-width="2"/>
<circle cx="196.20" cy="746.20" r="9.7" fill="#fff"/>
<path d="M190.21,750.30 L192.11,746.70 L191.11,746.70 L191.11,742.50 L189.31,742.50 L189.31,746.70 L188.31,746.70Z" fill="#1d74b6"/>
<text transform="translate(192.61,749.80) scale(0.81,1)" font-size="10.2" font-weight="400" fill="#1d74b6" text-anchor="start" stroke="#1d74b6" stroke-width="0.3">0.2</text>
<text transform="translate(196.20,726.70) scale(0.82,1)" font-size="14.3" font-weight="400" fill="#555" text-anchor="middle" stroke="#555" stroke-width="0.25">9.5</text>
<text transform="translate(196.20,787.60) scale(0.88,1)" font-size="11.8" font-weight="500" fill="#333" text-anchor="middle" >도매 및</text>
<text transform="translate(196.20,800.40) scale(0.88,1)" font-size="11.8" font-weight="500" fill="#333" text-anchor="middle" >소매업</text>
<path d="M216,733.5 L234.5,704.5 L234.5,722.5Z" fill="#fde9de"/>
<rect x="234.00" y="681.50" width="284.30" height="135.50" rx="3" fill="#fdebe1" />
<line x1="374.5" y1="689" x2="374.5" y2="811" stroke="#d8b8a8" stroke-width="1" stroke-dasharray="1.5 2.2"/>
<text transform="translate(304.50,700.00) scale(0.85,1)" font-size="13" font-weight="500" fill="#e8793a" text-anchor="middle" >〈상용근로자〉</text>
<text transform="translate(447.00,700.00) scale(0.85,1)" font-size="13" font-weight="500" fill="#e8793a" text-anchor="middle" >〈임시·일용근로자〉</text>
<line x1="248" y1="769" x2="361.2" y2="769" stroke="#b9a79d" stroke-width="1"/>
<line x1="390.2" y1="769" x2="503.6" y2="769" stroke="#b9a79d" stroke-width="1"/>
<path d="M261.00,769 L261.00,731.50 A8.5,8.5 0 0 1 278.00,731.50 L278.00,769Z" fill="#ee9a24"/>
<text transform="translate(269.50,719.30) scale(0.78,1)" font-size="13" font-weight="400" fill="#555" text-anchor="middle" stroke="#555" stroke-width="0.2">22.1</text>
<text transform="translate(269.50,787.00) scale(0.86,1)" font-size="10.3" font-weight="500" fill="#333" text-anchor="middle" >제조업</text>
<path d="M296.90,769 L296.90,752.90 A8.5,8.5 0 0 1 313.90,752.90 L313.90,769Z" fill="#f6ae2a"/>
<text transform="translate(305.40,740.70) scale(0.78,1)" font-size="13" font-weight="400" fill="#555" text-anchor="middle" stroke="#555" stroke-width="0.2">12.0</text>
<text transform="translate(305.40,787.00) scale(0.86,1)" font-size="10.3" font-weight="500" fill="#333" text-anchor="middle" >보건업 및</text>
<text transform="translate(305.40,798.20) scale(0.86,1)" font-size="10.3" font-weight="500" fill="#333" text-anchor="middle" >사회복지</text>
<text transform="translate(305.40,809.40) scale(0.86,1)" font-size="10.3" font-weight="500" fill="#333" text-anchor="middle" >서비스업</text>
<path d="M332.20,769 L332.20,757.20 A8.5,8.5 0 0 1 349.20,757.20 L349.20,769Z" fill="#fac048"/>
<text transform="translate(340.70,745.00) scale(0.78,1)" font-size="13" font-weight="400" fill="#555" text-anchor="middle" stroke="#555" stroke-width="0.2">9.8</text>
<text transform="translate(340.70,787.00) scale(0.86,1)" font-size="10.3" font-weight="500" fill="#333" text-anchor="middle" >도매 및</text>
<text transform="translate(340.70,798.20) scale(0.86,1)" font-size="10.3" font-weight="500" fill="#333" text-anchor="middle" >소매업</text>
<path d="M402.50,769 L402.50,738.50 A8.5,8.5 0 0 1 419.50,738.50 L419.50,769Z" fill="#ee9a24"/>
<text transform="translate(411.00,726.30) scale(0.78,1)" font-size="13" font-weight="400" fill="#555" text-anchor="middle" stroke="#555" stroke-width="0.2">18.9</text>
<text transform="translate(411.00,787.00) scale(0.86,1)" font-size="10.3" font-weight="500" fill="#333" text-anchor="middle" >보건업 및</text>
<text transform="translate(411.00,798.20) scale(0.86,1)" font-size="10.3" font-weight="500" fill="#333" text-anchor="middle" >사회복지</text>
<text transform="translate(411.00,809.40) scale(0.86,1)" font-size="10.3" font-weight="500" fill="#333" text-anchor="middle" >서비스업</text>
<path d="M438.70,769 L438.70,748.60 A8.5,8.5 0 0 1 455.70,748.60 L455.70,769Z" fill="#f6ae2a"/>
<text transform="translate(447.20,736.40) scale(0.78,1)" font-size="13" font-weight="400" fill="#555" text-anchor="middle" stroke="#555" stroke-width="0.2">13.9</text>
<text transform="translate(447.20,787.00) scale(0.86,1)" font-size="10.3" font-weight="500" fill="#333" text-anchor="middle" >숙박 및</text>
<text transform="translate(447.20,798.20) scale(0.86,1)" font-size="10.3" font-weight="500" fill="#333" text-anchor="middle" >음식점업</text>
<path d="M474.90,769 L474.90,756.70 A8.5,8.5 0 0 1 491.90,756.70 L491.90,769Z" fill="#fac048"/>
<text transform="translate(483.40,744.50) scale(0.78,1)" font-size="13" font-weight="400" fill="#555" text-anchor="middle" stroke="#555" stroke-width="0.2">10.4</text>
<text transform="translate(483.40,787.00) scale(0.86,1)" font-size="10.3" font-weight="500" fill="#333" text-anchor="middle" >건설업</text>
<line x1="574.6" y1="769" x2="732" y2="769" stroke="#b5b5b5" stroke-width="1"/>
<path d="M588.10,769 L588.10,699.20 A12.0,12.0 0 0 1 612.10,699.20 L612.10,769Z" fill="#3db787"/>
<circle cx="600.10" cy="700.90" r="10.6" fill="none" stroke="#000" stroke-opacity="0.07" stroke-width="2"/>
<circle cx="600.10" cy="700.90" r="9.7" fill="#fff"/>
<path d="M594.11,705.00 L596.01,701.40 L595.01,701.40 L595.01,697.20 L593.21,697.20 L593.21,701.40 L592.21,701.40Z" fill="#1d74b6"/>
<text transform="translate(596.51,704.50) scale(0.81,1)" font-size="10.2" font-weight="400" fill="#1d74b6" text-anchor="start" stroke="#1d74b6" stroke-width="0.3">1.6</text>
<path d="M587.75,663.70 H612.45 Q615.95,663.70 615.95,667.20 V675.00 Q615.95,678.50 612.45,678.50 H602.90 L600.10,683.30 L597.30,678.50 H587.75 Q584.25,678.50 584.25,675.00 V667.20 Q584.25,663.70 587.75,663.70Z" fill="#3db787"/>
<text x="600.10" y="675.70" font-size="14" font-weight="700" fill="#fff" text-anchor="middle" >20.7</text>
<text transform="translate(600.10,786.30) scale(0.88,1)" font-size="11.8" font-weight="500" fill="#333" text-anchor="middle" >농림어업</text>
<path d="M641.70,769 L641.70,714.30 A12.0,12.0 0 0 1 665.70,714.30 L665.70,769Z" fill="#5cc09b"/>
<circle cx="653.70" cy="716.00" r="10.6" fill="none" stroke="#000" stroke-opacity="0.07" stroke-width="2"/>
<circle cx="653.70" cy="716.00" r="9.7" fill="#fff"/>
<path d="M647.71,712.30 L649.61,715.90 L648.61,715.90 L648.61,720.10 L646.81,720.10 L646.81,715.90 L645.81,715.90Z" fill="#d3352f"/>
<text transform="translate(650.11,719.60) scale(0.81,1)" font-size="10.2" font-weight="400" fill="#d3352f" text-anchor="start" stroke="#d3352f" stroke-width="0.3">0.3</text>
<text transform="translate(653.70,696.50) scale(0.82,1)" font-size="14.3" font-weight="400" fill="#555" text-anchor="middle" stroke="#555" stroke-width="0.25">17.0</text>
<text transform="translate(653.70,786.30) scale(0.88,1)" font-size="11.8" font-weight="500" fill="#333" text-anchor="middle" >도매 및</text>
<text transform="translate(653.70,800.50) scale(0.88,1)" font-size="11.8" font-weight="500" fill="#333" text-anchor="middle" >소매업</text>
<path d="M694.90,769 L694.90,730.70 A12.0,12.0 0 0 1 718.90,730.70 L718.90,769Z" fill="#86c6b0"/>
<circle cx="706.90" cy="732.40" r="10.6" fill="none" stroke="#000" stroke-opacity="0.07" stroke-width="2"/>
<circle cx="706.90" cy="732.40" r="9.7" fill="#fff"/>
<path d="M700.91,728.70 L702.81,732.30 L701.81,732.30 L701.81,736.50 L700.01,736.50 L700.01,732.30 L699.01,732.30Z" fill="#d3352f"/>
<text transform="translate(703.31,736.00) scale(0.81,1)" font-size="10.2" font-weight="400" fill="#d3352f" text-anchor="start" stroke="#d3352f" stroke-width="0.3">0.4</text>
<text transform="translate(706.90,712.90) scale(0.82,1)" font-size="14.3" font-weight="400" fill="#555" text-anchor="middle" stroke="#555" stroke-width="0.25">13.0</text>
<text transform="translate(706.90,786.30) scale(0.88,1)" font-size="11.8" font-weight="500" fill="#333" text-anchor="middle" >숙박 및</text>
<text transform="translate(706.90,800.50) scale(0.88,1)" font-size="11.8" font-weight="500" fill="#333" text-anchor="middle" >음식점업</text>
<text transform="translate(38.00,849.30) scale(0.9,1)" font-size="11.8" font-weight="500" fill="#333" text-anchor="start" >* 해당 종사상지위에서 특정 산업이 차지하는 비중</text>
<rect x="38.3" y="871.9" width="718.5" height="223.89999999999998" rx="17.5" fill="#fff" stroke="#b9bac6" stroke-width="0.9" filter="url(#sh)"/>
<path d="M208.5,871.2 C208.5,863.7 214,860.7 224,860.7 L250,860.7 L250,871.2Z" fill="#33779a"/>
<path d="M585.5,871.2 C585.5,863.7 580,860.7 570,860.7 L544,860.7 L544,871.2Z" fill="#33779a"/>
<path d="M224,860.7 L570,860.7 C563,860.7 557.5,864.7 557.5,872.7 L557.5,876.7 Q557.5,891.7 542.5,891.7 L251.5,891.7 Q236.5,891.7 236.5,876.7 L236.5,872.7 C236.5,864.7 231,860.7 224,860.7Z" fill="#4f95b4"/>
<text x="397.5" y="883.3000000000001" font-size="18.6" font-weight="900" fill="#fff" stroke="#fff" stroke-width="0.3" stroke-linejoin="round" text-anchor="middle" textLength="296" lengthAdjust="spacingAndGlyphs">산업대분류별 임금수준별 임금근로자 비중</text>
<text transform="translate(743.30,898.70) scale(0.84,1)" font-size="11.5" font-weight="500" fill="#3c3c3c" text-anchor="end" >(단위: %, %p)</text>
<circle cx="182.5" cy="907.6" r="4.1" fill="#4db9a2"/>
<text x="189.6" y="911.2" font-size="9.3" fill="#444" textLength="48.4" lengthAdjust="spacing">100만원 미만</text>
<circle cx="251.3" cy="907.6" r="4.1" fill="#9b9b9b"/>
<text x="258" y="911.2" font-size="9.3" fill="#444" textLength="72.6" lengthAdjust="spacing">100~200만원 미만</text>
<circle cx="341.2" cy="907.6" r="4.1" fill="#6aa5d8"/>
<text x="348.3" y="911.2" font-size="9.3" fill="#444" textLength="72.9" lengthAdjust="spacing">200~300만원 미만</text>
<circle cx="433" cy="907.6" r="4.1" fill="#c59b6d"/>
<text x="440.5" y="911.2" font-size="9.3" fill="#444" textLength="72.3" lengthAdjust="spacing">300~400만원 미만</text>
<circle cx="523.9" cy="907.6" r="4.1" fill="#8f7dc4"/>
<text x="531.4" y="911.2" font-size="9.3" fill="#444" textLength="72" lengthAdjust="spacing">400~500만원 미만</text>
<circle cx="615.2" cy="907.6" r="4.1" fill="#a9c951"/>
<text x="623" y="911.2" font-size="9.3" fill="#444" textLength="48.3" lengthAdjust="spacing">500만원 이상</text>
<rect x="53.30" y="923.30" width="687.20" height="39.10" rx="0" fill="#ebe4d6" />
<line x1="223.3" y1="923.3" x2="223.3" y2="1083.5" stroke="#a8a8a8" stroke-width="1"/>
<text x="175.8" y="941.9" font-size="13.2" font-weight="700" fill="#222" text-anchor="end" textLength="50.4" lengthAdjust="spacingAndGlyphs">임금근로자</text>
<text x="175.8" y="954.4" font-size="10.6" font-weight="400" fill="#444" text-anchor="end" textLength="54.2" lengthAdjust="spacingAndGlyphs">(22,415천명)</text>
<rect x="223.80" y="932.20" width="48.55" height="21.30" rx="0" fill="#4db9a2" />
<rect x="272.35" y="932.20" width="50.06" height="21.30" rx="0" fill="#9b9b9b" />
<line x1="272.35" y1="932.2" x2="272.35" y2="953.5" stroke="#fff" stroke-width="1"/>
<rect x="322.41" y="932.20" width="154.74" height="21.30" rx="0" fill="#6aa5d8" />
<line x1="322.41" y1="932.2" x2="322.41" y2="953.5" stroke="#fff" stroke-width="1"/>
<rect x="477.16" y="932.20" width="113.28" height="21.30" rx="0" fill="#c59b6d" />
<line x1="477.16" y1="932.2" x2="477.16" y2="953.5" stroke="#fff" stroke-width="1"/>
<rect x="590.43" y="932.20" width="56.64" height="21.30" rx="0" fill="#8f7dc4" />
<line x1="590.43" y1="932.2" x2="590.43" y2="953.5" stroke="#fff" stroke-width="1"/>
<rect x="647.07" y="932.20" width="82.43" height="21.30" rx="0" fill="#a9c951" />
<line x1="647.07" y1="932.2" x2="647.07" y2="953.5" stroke="#fff" stroke-width="1"/>
<text transform="translate(248.07,947.80) scale(0.87,1)" font-size="13.7" font-weight="400" fill="#fff" text-anchor="middle" >9.6</text>
<text transform="translate(235.31,965.40) scale(0.86,1)" font-size="10.799999999999999" font-weight="400" fill="#6a6a6a" text-anchor="start" >(</text>
<path d="M241.63,958.54 L244.54,961.78 L242.92,961.78 L242.92,965.66 L240.33,965.66 L240.33,961.78 L238.71,961.78Z" fill="#d3352f"/>
<text transform="translate(245.43,965.50) scale(0.86,1)" font-size="10.2" font-weight="400" fill="#d3352f" text-anchor="start" stroke="#d3352f" stroke-width="0.25">0.2</text>
<text transform="translate(257.92,965.40) scale(0.86,1)" font-size="10.799999999999999" font-weight="400" fill="#6a6a6a" text-anchor="start" >)</text>
<text transform="translate(297.38,947.80) scale(0.87,1)" font-size="13.7" font-weight="400" fill="#fff" text-anchor="middle" >9.9</text>
<text transform="translate(284.61,965.40) scale(0.86,1)" font-size="10.799999999999999" font-weight="400" fill="#6a6a6a" text-anchor="start" >(</text>
<path d="M290.93,965.66 L293.85,962.42 L292.23,962.42 L292.23,958.54 L289.64,958.54 L289.64,962.42 L288.02,962.42Z" fill="#1d74b6"/>
<text transform="translate(294.73,965.50) scale(0.86,1)" font-size="10.2" font-weight="400" fill="#1d74b6" text-anchor="start" stroke="#1d74b6" stroke-width="0.25">0.8</text>
<text transform="translate(307.23,965.40) scale(0.86,1)" font-size="10.799999999999999" font-weight="400" fill="#6a6a6a" text-anchor="start" >)</text>
<text transform="translate(399.78,947.80) scale(0.87,1)" font-size="13.7" font-weight="400" fill="#fff" text-anchor="middle" >30.6</text>
<text transform="translate(387.02,965.40) scale(0.86,1)" font-size="10.799999999999999" font-weight="400" fill="#6a6a6a" text-anchor="start" >(</text>
<path d="M393.34,965.66 L396.25,962.42 L394.63,962.42 L394.63,958.54 L392.04,958.54 L392.04,962.42 L390.42,962.42Z" fill="#1d74b6"/>
<text transform="translate(397.14,965.50) scale(0.86,1)" font-size="10.2" font-weight="400" fill="#1d74b6" text-anchor="start" stroke="#1d74b6" stroke-width="0.25">1.6</text>
<text transform="translate(409.63,965.40) scale(0.86,1)" font-size="10.799999999999999" font-weight="400" fill="#6a6a6a" text-anchor="start" >)</text>
<text transform="translate(533.79,947.80) scale(0.87,1)" font-size="13.7" font-weight="400" fill="#fff" text-anchor="middle" >22.4</text>
<text transform="translate(521.03,965.40) scale(0.86,1)" font-size="10.799999999999999" font-weight="400" fill="#6a6a6a" text-anchor="start" >(</text>
<path d="M527.35,958.54 L530.26,961.78 L528.64,961.78 L528.64,965.66 L526.05,965.66 L526.05,961.78 L524.43,961.78Z" fill="#d3352f"/>
<text transform="translate(531.15,965.50) scale(0.86,1)" font-size="10.2" font-weight="400" fill="#d3352f" text-anchor="start" stroke="#d3352f" stroke-width="0.25">0.6</text>
<text transform="translate(543.64,965.40) scale(0.86,1)" font-size="10.799999999999999" font-weight="400" fill="#6a6a6a" text-anchor="start" >)</text>
<text transform="translate(618.75,947.80) scale(0.87,1)" font-size="13.7" font-weight="400" fill="#fff" text-anchor="middle" >11.2</text>
<text transform="translate(605.98,965.40) scale(0.86,1)" font-size="10.799999999999999" font-weight="400" fill="#6a6a6a" text-anchor="start" >(</text>
<path d="M612.31,958.54 L615.22,961.78 L613.60,961.78 L613.60,965.66 L611.01,965.66 L611.01,961.78 L609.39,961.78Z" fill="#d3352f"/>
<text transform="translate(616.11,965.50) scale(0.86,1)" font-size="10.2" font-weight="400" fill="#d3352f" text-anchor="start" stroke="#d3352f" stroke-width="0.25">0.3</text>
<text transform="translate(628.60,965.40) scale(0.86,1)" font-size="10.799999999999999" font-weight="400" fill="#6a6a6a" text-anchor="start" >)</text>
<text transform="translate(688.29,947.80) scale(0.87,1)" font-size="13.7" font-weight="400" fill="#fff" text-anchor="middle" >16.3</text>
<text transform="translate(675.52,965.40) scale(0.86,1)" font-size="10.799999999999999" font-weight="400" fill="#6a6a6a" text-anchor="start" >(</text>
<path d="M681.84,958.54 L684.75,961.78 L683.13,961.78 L683.13,965.66 L680.54,965.66 L680.54,961.78 L678.92,961.78Z" fill="#d3352f"/>
<text transform="translate(685.64,965.50) scale(0.86,1)" font-size="10.2" font-weight="400" fill="#d3352f" text-anchor="start" stroke="#d3352f" stroke-width="0.25">1.4</text>
<text transform="translate(698.13,965.40) scale(0.86,1)" font-size="10.799999999999999" font-weight="400" fill="#6a6a6a" text-anchor="start" >)</text>
<text x="175.6" y="984.4" font-size="11.6" font-weight="400" fill="#2c2c2c" text-anchor="end" textLength="28.5" lengthAdjust="spacingAndGlyphs">제조업</text>
<text x="175.8" y="996.7" font-size="10.6" font-weight="400" fill="#444" text-anchor="end" textLength="45.3" lengthAdjust="spacingAndGlyphs">(3,990천명)</text>
<rect x="223.80" y="973.80" width="5.06" height="21.30" rx="0" fill="#4db9a2" />
<rect x="228.86" y="973.80" width="17.19" height="21.30" rx="0" fill="#9b9b9b" />
<line x1="228.86" y1="973.8" x2="228.86" y2="995.0999999999999" stroke="#fff" stroke-width="1"/>
<rect x="246.05" y="973.80" width="144.12" height="21.30" rx="0" fill="#6aa5d8" />
<line x1="246.05" y1="973.8" x2="246.05" y2="995.0999999999999" stroke="#fff" stroke-width="1"/>
<rect x="390.18" y="973.80" width="142.61" height="21.30" rx="0" fill="#c59b6d" />
<line x1="390.18" y1="973.8" x2="390.18" y2="995.0999999999999" stroke="#fff" stroke-width="1"/>
<rect x="532.78" y="973.80" width="80.91" height="21.30" rx="0" fill="#8f7dc4" />
<line x1="532.78" y1="973.8" x2="532.78" y2="995.0999999999999" stroke="#fff" stroke-width="1"/>
<rect x="613.69" y="973.80" width="115.81" height="21.30" rx="0" fill="#a9c951" />
<line x1="613.69" y1="973.8" x2="613.69" y2="995.0999999999999" stroke="#fff" stroke-width="1"/>
<text transform="translate(224.00,989.40) scale(0.87,1)" font-size="13.9" font-weight="400" fill="none" text-anchor="middle" stroke="#bfe9e3" stroke-width="0.9">1.0</text>
<text transform="translate(209.43,1007.00) scale(0.86,1)" font-size="10.799999999999999" font-weight="400" fill="#6a6a6a" text-anchor="start" >(</text>
<path d="M215.75,1007.26 L218.67,1004.02 L217.05,1004.02 L217.05,1000.14 L214.46,1000.14 L214.46,1004.02 L212.84,1004.02Z" fill="#1d74b6"/>
<text transform="translate(219.55,1007.10) scale(0.86,1)" font-size="10.2" font-weight="400" fill="#1d74b6" text-anchor="start" stroke="#1d74b6" stroke-width="0.25">0.1</text>
<text transform="translate(232.05,1007.00) scale(0.86,1)" font-size="10.799999999999999" font-weight="400" fill="#6a6a6a" text-anchor="start" >)</text>
<text transform="translate(244.50,989.40) scale(0.87,1)" font-size="13.7" font-weight="400" fill="#fff" text-anchor="middle" >3.4</text>
<text transform="translate(236.83,1007.00) scale(0.86,1)" font-size="10.799999999999999" font-weight="400" fill="#6a6a6a" text-anchor="start" >(</text>
<path d="M243.15,1007.26 L246.07,1004.02 L244.45,1004.02 L244.45,1000.14 L241.86,1000.14 L241.86,1004.02 L240.24,1004.02Z" fill="#1d74b6"/>
<text transform="translate(246.95,1007.10) scale(0.86,1)" font-size="10.2" font-weight="400" fill="#1d74b6" text-anchor="start" stroke="#1d74b6" stroke-width="0.25">0.8</text>
<text transform="translate(259.45,1007.00) scale(0.86,1)" font-size="10.799999999999999" font-weight="400" fill="#6a6a6a" text-anchor="start" >)</text>
<text transform="translate(318.11,989.40) scale(0.87,1)" font-size="13.7" font-weight="400" fill="#fff" text-anchor="middle" >28.5</text>
<text transform="translate(305.35,1007.00) scale(0.86,1)" font-size="10.799999999999999" font-weight="400" fill="#6a6a6a" text-anchor="start" >(</text>
<path d="M311.67,1007.26 L314.58,1004.02 L312.96,1004.02 L312.96,1000.14 L310.37,1000.14 L310.37,1004.02 L308.75,1004.02Z" fill="#1d74b6"/>
<text transform="translate(315.47,1007.10) scale(0.86,1)" font-size="10.2" font-weight="400" fill="#1d74b6" text-anchor="start" stroke="#1d74b6" stroke-width="0.25">1.8</text>
<text transform="translate(327.96,1007.00) scale(0.86,1)" font-size="10.799999999999999" font-weight="400" fill="#6a6a6a" text-anchor="start" >)</text>
<text transform="translate(461.48,989.40) scale(0.87,1)" font-size="13.7" font-weight="400" fill="#fff" text-anchor="middle" >28.2</text>
<text transform="translate(448.71,1007.00) scale(0.86,1)" font-size="10.799999999999999" font-weight="400" fill="#6a6a6a" text-anchor="start" >(</text>
<path d="M455.03,1000.14 L457.95,1003.38 L456.33,1003.38 L456.33,1007.26 L453.74,1007.26 L453.74,1003.38 L452.12,1003.38Z" fill="#d3352f"/>
<text transform="translate(458.83,1007.10) scale(0.86,1)" font-size="10.2" font-weight="400" fill="#d3352f" text-anchor="start" stroke="#d3352f" stroke-width="0.25">0.4</text>
<text transform="translate(471.33,1007.00) scale(0.86,1)" font-size="10.799999999999999" font-weight="400" fill="#6a6a6a" text-anchor="start" >)</text>
<text transform="translate(573.24,989.40) scale(0.87,1)" font-size="13.7" font-weight="400" fill="#fff" text-anchor="middle" >16.0</text>
<text transform="translate(560.47,1007.00) scale(0.86,1)" font-size="10.799999999999999" font-weight="400" fill="#6a6a6a" text-anchor="start" >(</text>
<path d="M566.79,1000.14 L569.71,1003.38 L568.09,1003.38 L568.09,1007.26 L565.50,1007.26 L565.50,1003.38 L563.88,1003.38Z" fill="#d3352f"/>
<text transform="translate(570.59,1007.10) scale(0.86,1)" font-size="10.2" font-weight="400" fill="#d3352f" text-anchor="start" stroke="#d3352f" stroke-width="0.25">0.5</text>
<text transform="translate(583.09,1007.00) scale(0.86,1)" font-size="10.799999999999999" font-weight="400" fill="#6a6a6a" text-anchor="start" >)</text>
<text transform="translate(671.60,989.40) scale(0.87,1)" font-size="13.7" font-weight="400" fill="#fff" text-anchor="middle" >22.9</text>
<text transform="translate(658.83,1007.00) scale(0.86,1)" font-size="10.799999999999999" font-weight="400" fill="#6a6a6a" text-anchor="start" >(</text>
<path d="M665.15,1000.14 L668.07,1003.38 L666.45,1003.38 L666.45,1007.26 L663.85,1007.26 L663.85,1003.38 L662.23,1003.38Z" fill="#d3352f"/>
<text transform="translate(668.95,1007.10) scale(0.86,1)" font-size="10.2" font-weight="400" fill="#d3352f" text-anchor="start" stroke="#d3352f" stroke-width="0.25">1.8</text>
<text transform="translate(681.44,1007.00) scale(0.86,1)" font-size="10.799999999999999" font-weight="400" fill="#6a6a6a" text-anchor="start" >)</text>
<text x="175.6" y="1024.4" font-size="11.6" font-weight="400" fill="#2c2c2c" text-anchor="end" textLength="120" lengthAdjust="spacingAndGlyphs">보건업 및 사회복지 서비스업</text>
<text x="175.8" y="1036.5" font-size="10.6" font-weight="400" fill="#444" text-anchor="end" textLength="45.3" lengthAdjust="spacingAndGlyphs">(3,082천명)</text>
<rect x="223.80" y="1014.50" width="146.15" height="21.30" rx="0" fill="#4db9a2" />
<rect x="369.95" y="1014.50" width="63.21" height="21.30" rx="0" fill="#9b9b9b" />
<line x1="369.95" y1="1014.5" x2="369.95" y2="1035.8" stroke="#fff" stroke-width="1"/>
<rect x="433.16" y="1014.50" width="174.97" height="21.30" rx="0" fill="#6aa5d8" />
<line x1="433.16" y1="1014.5" x2="433.16" y2="1035.8" stroke="#fff" stroke-width="1"/>
<rect x="608.13" y="1014.50" width="70.29" height="21.30" rx="0" fill="#c59b6d" />
<line x1="608.13" y1="1014.5" x2="608.13" y2="1035.8" stroke="#fff" stroke-width="1"/>
<rect x="678.42" y="1014.50" width="24.78" height="21.30" rx="0" fill="#8f7dc4" />
<line x1="678.42" y1="1014.5" x2="678.42" y2="1035.8" stroke="#fff" stroke-width="1"/>
<rect x="703.20" y="1014.50" width="26.30" height="21.30" rx="0" fill="#a9c951" />
<line x1="703.20" y1="1014.5" x2="703.20" y2="1035.8" stroke="#fff" stroke-width="1"/>
<text transform="translate(296.87,1030.10) scale(0.87,1)" font-size="13.7" font-weight="400" fill="#fff" text-anchor="middle" >28.9</text>
<text transform="translate(284.11,1047.70) scale(0.86,1)" font-size="10.799999999999999" font-weight="400" fill="#6a6a6a" text-anchor="start" >(</text>
<path d="M290.43,1040.84 L293.34,1044.08 L291.72,1044.08 L291.72,1047.96 L289.13,1047.96 L289.13,1044.08 L287.51,1044.08Z" fill="#d3352f"/>
<text transform="translate(294.23,1047.80) scale(0.86,1)" font-size="10.2" font-weight="400" fill="#d3352f" text-anchor="start" stroke="#d3352f" stroke-width="0.25">0.8</text>
<text transform="translate(306.72,1047.70) scale(0.86,1)" font-size="10.799999999999999" font-weight="400" fill="#6a6a6a" text-anchor="start" >)</text>
<text transform="translate(401.55,1030.10) scale(0.87,1)" font-size="13.7" font-weight="400" fill="#fff" text-anchor="middle" >12.5</text>
<text transform="translate(388.79,1047.70) scale(0.86,1)" font-size="10.799999999999999" font-weight="400" fill="#6a6a6a" text-anchor="start" >(</text>
<path d="M395.11,1047.96 L398.02,1044.72 L396.40,1044.72 L396.40,1040.84 L393.81,1040.84 L393.81,1044.72 L392.19,1044.72Z" fill="#1d74b6"/>
<text transform="translate(398.91,1047.80) scale(0.86,1)" font-size="10.2" font-weight="400" fill="#1d74b6" text-anchor="start" stroke="#1d74b6" stroke-width="0.25">0.6</text>
<text transform="translate(411.40,1047.70) scale(0.86,1)" font-size="10.799999999999999" font-weight="400" fill="#6a6a6a" text-anchor="start" >)</text>
<text transform="translate(520.65,1030.10) scale(0.87,1)" font-size="13.7" font-weight="400" fill="#fff" text-anchor="middle" >34.6</text>
<text transform="translate(507.88,1047.70) scale(0.86,1)" font-size="10.799999999999999" font-weight="400" fill="#6a6a6a" text-anchor="start" >(</text>
<path d="M514.20,1047.96 L517.12,1044.72 L515.50,1044.72 L515.50,1040.84 L512.90,1040.84 L512.90,1044.72 L511.28,1044.72Z" fill="#1d74b6"/>
<text transform="translate(518.00,1047.80) scale(0.86,1)" font-size="10.2" font-weight="400" fill="#1d74b6" text-anchor="start" stroke="#1d74b6" stroke-width="0.25">1.5</text>
<text transform="translate(530.49,1047.70) scale(0.86,1)" font-size="10.799999999999999" font-weight="400" fill="#6a6a6a" text-anchor="start" >)</text>
<text transform="translate(643.28,1030.10) scale(0.87,1)" font-size="13.7" font-weight="400" fill="#fff" text-anchor="middle" >13.9</text>
<text transform="translate(630.51,1047.70) scale(0.86,1)" font-size="10.799999999999999" font-weight="400" fill="#6a6a6a" text-anchor="start" >(</text>
<path d="M636.83,1040.84 L639.75,1044.08 L638.13,1044.08 L638.13,1047.96 L635.54,1047.96 L635.54,1044.08 L633.92,1044.08Z" fill="#d3352f"/>
<text transform="translate(640.63,1047.80) scale(0.86,1)" font-size="10.2" font-weight="400" fill="#d3352f" text-anchor="start" stroke="#d3352f" stroke-width="0.25">0.7</text>
<text transform="translate(653.12,1047.70) scale(0.86,1)" font-size="10.799999999999999" font-weight="400" fill="#6a6a6a" text-anchor="start" >)</text>
<text transform="translate(690.81,1030.10) scale(0.87,1)" font-size="13.7" font-weight="400" fill="#fff" text-anchor="middle" >4.9</text>
<text transform="translate(677.63,1047.70) scale(0.86,1)" font-size="10.799999999999999" font-weight="400" fill="#6a6a6a" text-anchor="start" >(</text>
<path d="M683.95,1040.84 L686.87,1044.08 L685.25,1044.08 L685.25,1047.96 L682.66,1047.96 L682.66,1044.08 L681.04,1044.08Z" fill="#d3352f"/>
<text transform="translate(687.75,1047.80) scale(0.86,1)" font-size="10.2" font-weight="400" fill="#d3352f" text-anchor="start" stroke="#d3352f" stroke-width="0.25">0.4</text>
<text transform="translate(700.25,1047.70) scale(0.86,1)" font-size="10.799999999999999" font-weight="400" fill="#6a6a6a" text-anchor="start" >)</text>
<text transform="translate(716.35,1030.10) scale(0.87,1)" font-size="13.7" font-weight="400" fill="#fff" text-anchor="middle" >5.2</text>
<text transform="translate(703.43,1047.70) scale(0.86,1)" font-size="10.799999999999999" font-weight="400" fill="#6a6a6a" text-anchor="start" >(</text>
<path d="M709.75,1040.84 L712.67,1044.08 L711.05,1044.08 L711.05,1047.96 L708.46,1047.96 L708.46,1044.08 L706.84,1044.08Z" fill="#d3352f"/>
<text transform="translate(713.55,1047.80) scale(0.86,1)" font-size="10.2" font-weight="400" fill="#d3352f" text-anchor="start" stroke="#d3352f" stroke-width="0.25">0.2</text>
<text transform="translate(726.05,1047.70) scale(0.86,1)" font-size="10.799999999999999" font-weight="400" fill="#6a6a6a" text-anchor="start" >)</text>
<text x="175.6" y="1064.1" font-size="11.6" font-weight="400" fill="#2c2c2c" text-anchor="end" textLength="64.2" lengthAdjust="spacingAndGlyphs">도매 및 소매업</text>
<text x="175.8" y="1076.1" font-size="10.6" font-weight="400" fill="#444" text-anchor="end" textLength="45.3" lengthAdjust="spacingAndGlyphs">(2,138천명)</text>
<rect x="223.80" y="1056.00" width="42.44" height="21.30" rx="0" fill="#4db9a2" />
<rect x="266.24" y="1056.00" width="60.12" height="21.30" rx="0" fill="#9b9b9b" />
<line x1="266.24" y1="1056.0" x2="266.24" y2="1077.3" stroke="#fff" stroke-width="1"/>
<rect x="326.35" y="1056.00" width="179.85" height="21.30" rx="0" fill="#6aa5d8" />
<line x1="326.35" y1="1056.0" x2="326.35" y2="1077.3" stroke="#fff" stroke-width="1"/>
<rect x="506.20" y="1056.00" width="110.64" height="21.30" rx="0" fill="#c59b6d" />
<line x1="506.20" y1="1056.0" x2="506.20" y2="1077.3" stroke="#fff" stroke-width="1"/>
<rect x="616.84" y="1056.00" width="47.49" height="21.30" rx="0" fill="#8f7dc4" />
<line x1="616.84" y1="1056.0" x2="616.84" y2="1077.3" stroke="#fff" stroke-width="1"/>
<rect x="664.33" y="1056.00" width="65.17" height="21.30" rx="0" fill="#a9c951" />
<line x1="664.33" y1="1056.0" x2="664.33" y2="1077.3" stroke="#fff" stroke-width="1"/>
<text transform="translate(245.02,1071.60) scale(0.87,1)" font-size="13.7" font-weight="400" fill="#fff" text-anchor="middle" >8.4</text>
<text transform="translate(232.25,1089.20) scale(0.86,1)" font-size="10.799999999999999" font-weight="400" fill="#6a6a6a" text-anchor="start" >(</text>
<path d="M238.57,1082.34 L241.49,1085.58 L239.87,1085.58 L239.87,1089.46 L237.28,1089.46 L237.28,1085.58 L235.66,1085.58Z" fill="#d3352f"/>
<text transform="translate(242.37,1089.30) scale(0.86,1)" font-size="10.2" font-weight="400" fill="#d3352f" text-anchor="start" stroke="#d3352f" stroke-width="0.25">0.4</text>
<text transform="translate(254.86,1089.20) scale(0.86,1)" font-size="10.799999999999999" font-weight="400" fill="#6a6a6a" text-anchor="start" >)</text>
<text transform="translate(296.30,1071.60) scale(0.87,1)" font-size="13.7" font-weight="400" fill="#fff" text-anchor="middle" >11.9</text>
<text transform="translate(283.53,1089.20) scale(0.86,1)" font-size="10.799999999999999" font-weight="400" fill="#6a6a6a" text-anchor="start" >(</text>
<path d="M289.85,1089.46 L292.76,1086.22 L291.14,1086.22 L291.14,1082.34 L288.55,1082.34 L288.55,1086.22 L286.93,1086.22Z" fill="#1d74b6"/>
<text transform="translate(293.65,1089.30) scale(0.86,1)" font-size="10.2" font-weight="400" fill="#1d74b6" text-anchor="start" stroke="#1d74b6" stroke-width="0.25">1.2</text>
<text transform="translate(306.14,1089.20) scale(0.86,1)" font-size="10.799999999999999" font-weight="400" fill="#6a6a6a" text-anchor="start" >)</text>
<text transform="translate(416.28,1071.60) scale(0.87,1)" font-size="13.7" font-weight="400" fill="#fff" text-anchor="middle" >35.6</text>
<text transform="translate(403.51,1089.20) scale(0.86,1)" font-size="10.799999999999999" font-weight="400" fill="#6a6a6a" text-anchor="start" >(</text>
<path d="M409.83,1089.46 L412.75,1086.22 L411.13,1086.22 L411.13,1082.34 L408.54,1082.34 L408.54,1086.22 L406.92,1086.22Z" fill="#1d74b6"/>
<text transform="translate(413.63,1089.30) scale(0.86,1)" font-size="10.2" font-weight="400" fill="#1d74b6" text-anchor="start" stroke="#1d74b6" stroke-width="0.25">2.0</text>
<text transform="translate(426.13,1089.20) scale(0.86,1)" font-size="10.799999999999999" font-weight="400" fill="#6a6a6a" text-anchor="start" >)</text>
<text transform="translate(561.52,1071.60) scale(0.87,1)" font-size="13.7" font-weight="400" fill="#fff" text-anchor="middle" >21.9</text>
<text transform="translate(548.76,1089.20) scale(0.86,1)" font-size="10.799999999999999" font-weight="400" fill="#6a6a6a" text-anchor="start" >(</text>
<path d="M555.08,1082.34 L557.99,1085.58 L556.37,1085.58 L556.37,1089.46 L553.78,1089.46 L553.78,1085.58 L552.16,1085.58Z" fill="#d3352f"/>
<text transform="translate(558.88,1089.30) scale(0.86,1)" font-size="10.2" font-weight="400" fill="#d3352f" text-anchor="start" stroke="#d3352f" stroke-width="0.25">0.8</text>
<text transform="translate(571.37,1089.20) scale(0.86,1)" font-size="10.799999999999999" font-weight="400" fill="#6a6a6a" text-anchor="start" >)</text>
<text transform="translate(640.59,1071.60) scale(0.87,1)" font-size="13.7" font-weight="400" fill="#fff" text-anchor="middle" >9.4</text>
<text transform="translate(627.82,1089.20) scale(0.86,1)" font-size="10.799999999999999" font-weight="400" fill="#6a6a6a" text-anchor="start" >(</text>
<path d="M634.14,1082.34 L637.06,1085.58 L635.44,1085.58 L635.44,1089.46 L632.84,1089.46 L632.84,1085.58 L631.22,1085.58Z" fill="#d3352f"/>
<text transform="translate(637.94,1089.30) scale(0.86,1)" font-size="10.2" font-weight="400" fill="#d3352f" text-anchor="start" stroke="#d3352f" stroke-width="0.25">0.6</text>
<text transform="translate(650.43,1089.20) scale(0.86,1)" font-size="10.799999999999999" font-weight="400" fill="#6a6a6a" text-anchor="start" >)</text>
<text transform="translate(696.91,1071.60) scale(0.87,1)" font-size="13.7" font-weight="400" fill="#fff" text-anchor="middle" >12.9</text>
<text transform="translate(684.15,1089.20) scale(0.86,1)" font-size="10.799999999999999" font-weight="400" fill="#6a6a6a" text-anchor="start" >(</text>
<path d="M690.47,1082.34 L693.38,1085.58 L691.76,1085.58 L691.76,1089.46 L689.17,1089.46 L689.17,1085.58 L687.55,1085.58Z" fill="#d3352f"/>
<text transform="translate(694.27,1089.30) scale(0.86,1)" font-size="10.2" font-weight="400" fill="#d3352f" text-anchor="start" stroke="#d3352f" stroke-width="0.25">1.4</text>
<text transform="translate(706.76,1089.20) scale(0.86,1)" font-size="10.799999999999999" font-weight="400" fill="#6a6a6a" text-anchor="start" >)</text>
<clipPath id="clip1"><circle cx="196.8" cy="942.8" r="14.6"/></clipPath>
<circle cx="196.8" cy="942.8" r="15.3" fill="#fff" stroke="#a99b8c" stroke-width="1.3"/>
<g clip-path="url(#clip1)"><g transform="translate(196.8,943.5999999999999) scale(1.13)">
<path d="M-6.3,2.6 L-6.3,-5.6 Q-6.3,-11.6 0,-11.6 Q6.3,-11.6 6.3,-5.6 L6.3,2.6 L4,2.6 L4,-4 L-4,-4 L-4,2.6Z" fill="#8a6a62"/>
<path d="M-11,16 Q-11,6 -4,5.2 L4,5.2 Q11,6 11,16Z" fill="#3b8fc2"/>
<path d="M-2.3,2 L2.3,2 L2.3,6 L0,8 L-2.3,6Z" fill="#f6c9bb"/>
<path d="M-3.4,4.6 L0,7.6 L3.4,4.6 L2.2,4 L0,6 L-2.2,4Z" fill="#fff"/>
<ellipse cx="0" cy="-2.6" rx="5.3" ry="5.8" fill="#f6c9bb"/>
<path d="M-5.6,-3 Q-5.6,-9 0,-9 Q5.6,-9 5.6,-3 Q3,-6.3 0,-6.3 Q-3,-6.3 -5.6,-3Z" fill="#8a6a62"/>
<path d="M-1.7,-0.3 Q0,1.8 1.7,-0.3Z" fill="#c9403a"/>
<circle cx="-2.2" cy="-2.8" r="0.55" fill="#3a2a2a"/><circle cx="2.2" cy="-2.8" r="0.55" fill="#3a2a2a"/>
</g></g>
<clipPath id="clip2"><circle cx="196.8" cy="986.4" r="14.6"/></clipPath>
<circle cx="196.8" cy="986.4" r="15.3" fill="#fff" stroke="#a99b8c" stroke-width="1.3"/>
<g clip-path="url(#clip2)"><g transform="translate(196.8,987.1999999999999) scale(1.13)">
<path d="M-11,16 Q-11,6.5 -4,5.6 L4,5.6 Q11,6.5 11,16Z" fill="#e9c33c"/>
<path d="M-6,16 L-6,6 L-3.6,5.6 L-3.6,9 L3.6,9 L3.6,5.6 L6,6 L6,16Z" fill="#3b86a8"/>
<rect x="-2.8" y="8" width="5.6" height="3" fill="#e9c33c"/>
<rect x="-2" y="2" width="4" height="4.6" fill="#f6c9bb"/>
<ellipse cx="0" cy="-1.6" rx="5.3" ry="5.8" fill="#f6c9bb"/>
<circle cx="-5.6" cy="-1.4" r="1.1" fill="#f6c9bb"/><circle cx="5.6" cy="-1.4" r="1.1" fill="#f6c9bb"/>
<path d="M-5.6,-3.6 L-5.6,-5 L5.6,-5 L5.6,-3.6 L4.8,-3.6 L4.8,-4.2 L-4.8,-4.2 L-4.8,-3.6Z" fill="#6b4a3a"/>
<path d="M-6.6,-4.6 Q-6.4,-12.2 0,-12.2 Q6.4,-12.2 6.6,-4.6 Q0,-6 -6.6,-4.6Z" fill="#efc93e"/>
<path d="M-1,-12.1 L1,-12.1 L1.2,-5.4 L-1.2,-5.4Z" fill="#f6dd78"/>
<path d="M-1.6,0.8 Q0,2.2 1.6,0.8" fill="none" stroke="#b8504a" stroke-width="0.6"/>
<circle cx="-2.1" cy="-1.9" r="0.5" fill="#3a2a2a"/><circle cx="2.1" cy="-1.9" r="0.5" fill="#3a2a2a"/>
</g></g>
<clipPath id="clip3"><circle cx="196.8" cy="1026.4" r="14.6"/></clipPath>
<circle cx="196.8" cy="1026.4" r="15.3" fill="#fff" stroke="#a99b8c" stroke-width="1.3"/>
<g clip-path="url(#clip3)"><g transform="translate(196.8,1027.2) scale(1.13)">
<path d="M3,-3 Q8.5,-1 7,4.6 Q5,6.6 2.6,4.6Z" fill="#8a6258"/>
<path d="M-11,16 Q-11,6.5 -5,5.6 L5,5.6 Q11,6.5 11,16Z" fill="#cbdbe9"/>
<path d="M-11,16 L-10.2,8.4 L-8.6,7 L-8.6,16Z" fill="#9a8378"/>
<path d="M-2.2,1.8 L2.2,1.8 L2.6,5.6 Q0,8 -2.6,5.6Z" fill="#f6c9bb"/>
<ellipse cx="-0.6" cy="-3.2" rx="5.1" ry="5.7" fill="#f6c9bb"/>
<path d="M-6.2,-2.6 Q-6.8,-12 0,-12 Q6,-12 5.4,-3.4 Q4.6,-1 4.6,0 Q4,-5.4 1,-7.6 Q-3,-7.6 -6.2,-2.6Z" fill="#8a6258"/>
<path d="M-1.8,-0.4 Q-0.6,0.6 0.6,-0.4" fill="none" stroke="#c9504a" stroke-width="0.6"/>
<circle cx="-2.7" cy="-3.2" r="0.5" fill="#3a2a2a"/><circle cx="1.3" cy="-3.2" r="0.5" fill="#3a2a2a"/>
</g></g>
<clipPath id="clip4"><circle cx="196.8" cy="1066.1" r="14.6"/></clipPath>
<circle cx="196.8" cy="1066.1" r="15.3" fill="#fff" stroke="#a99b8c" stroke-width="1.3"/>
<g clip-path="url(#clip4)"><g transform="translate(196.8,1066.8999999999999) scale(1.13)">
<path d="M-11,16 Q-11,6.5 -4.4,5.6 L4.4,5.6 Q11,6.5 11,16Z" fill="#7b4a3c"/>
<path d="M-2,2 L2,2 L2,5.6 L0,7.6 L-2,5.6Z" fill="#f6c9bb"/>
<path d="M-3.6,4.8 L-1.6,4.2 L0,6.4 L1.6,4.2 L3.6,4.8 L1.8,8 L0,6.6 L-1.8,8Z" fill="#fff"/>
<rect x="4.6" y="9.2" width="4" height="1.3" fill="#fff"/>
<ellipse cx="0" cy="-1.8" rx="5.2" ry="5.7" fill="#f6c9bb"/>
<circle cx="-5.5" cy="-1.4" r="1.1" fill="#f6c9bb"/><circle cx="5.5" cy="-1.4" r="1.1" fill="#f6c9bb"/>
<path d="M-5.8,-2.6 Q-6.8,-11.6 0,-11.6 Q6.8,-11.6 5.8,-2.6 Q5,-5.6 3.4,-6.4 Q0,-4.6 -3.6,-6.2 Q-5,-5.2 -5.8,-2.6Z" fill="#1f2a44"/>
<path d="M-1.5,1 Q0,2 1.5,1" fill="none" stroke="#c9504a" stroke-width="0.6"/>
<circle cx="-2.1" cy="-2" r="0.5" fill="#2a2a3a"/><circle cx="2.1" cy="-2" r="0.5" fill="#2a2a3a"/>
</g></g>
</svg></body></html>
